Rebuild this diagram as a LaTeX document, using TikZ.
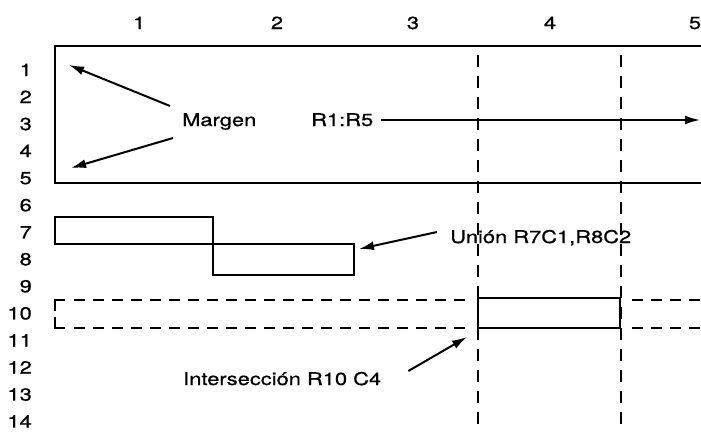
\documentclass[tikz,border=0pt]{standalone}
\usepackage{fontspec}
\setmainfont{TeX Gyre Heros}[FakeStretch=1.25,FakeBold=0.8]
\usetikzlibrary{arrows.meta}

\begin{document}
\begin{tikzpicture}[x=1pt,y=-1pt,
    every node/.style={font=\fontsize{17.5}{20}\selectfont,inner sep=0pt},
    heavy/.style={line width=2.5pt},
    guide/.style={line width=1.8pt,dash pattern=on 12pt off 9pt},
    band/.style={line width=2pt,dash pattern=on 11pt off 8pt},
    pointer/.style={line width=2pt,-{Latex[length=15pt,width=9pt]}}]
\useasboundingbox (0,0) rectangle (701,431);

% column and row numbers
\foreach \c/\x in {1/139,2/277,3/413,4/550,5/695}
    \node[anchor=base] (col\c) at (\x,29) {\c};
\foreach \r in {1,...,14}
    \node[anchor=base east] (row\r) at (32,{76+27.05*(\r-1)}) {\r};

% range R1:R5
\draw[heavy] (710,46) -- (55,46) -- (55,183) -- (710,183);

% union R7C1,R8C2
\draw[heavy] (55,217) rectangle (213,244);
\draw[heavy] (213,244) rectangle (354,275);

% column 4
\draw[guide] (478,55) -- (478,431);
\draw[guide] (621,55) -- (621,431);

% row 10
\draw[heavy] (55,311) -- (55,300) -- (65,300);
\draw[heavy] (55,317) -- (55,328) -- (65,328);
\draw[band] (74,300) -- (473,300);
\draw[band] (74,328) -- (473,328);
\draw[band] (632,300) -- (701,300);
\draw[band] (632,328) -- (701,328);
\draw[heavy] (478,298) rectangle (620,328);

% labels
\node[anchor=base west] (margen) at (182,126) {Margen};
\node[anchor=base west] (rango) at (311,126) {R1:R5};
\node[anchor=base west] (union) at (450,243) {Unión R7C1,R8C2};
\node[anchor=base west] (inter) at (183,385) {Intersección R10 C4};

\coordinate (margenA) at (69,65);
\coordinate (margenB) at (71,168);
\coordinate (rangoEnd) at (700,120);
\coordinate (unionEnd) at (359,249);
\coordinate (interEnd) at (467,337);

\draw[pointer] ([shift={(-12,-20)}]margen.base west) -- (margenA);
\draw[pointer] ([shift={(-9,12)}]margen.base west) -- (margenB);
\draw[pointer] ([shift={(8,-6)}]rango.base east) -- (rangoEnd);
\draw[pointer] ([shift={(-13,-11)}]union.base west) -- (unionEnd);
\draw[pointer] ([shift={(27,-14)}]inter.base east) -- (interEnd);
\end{tikzpicture}
\end{document}
